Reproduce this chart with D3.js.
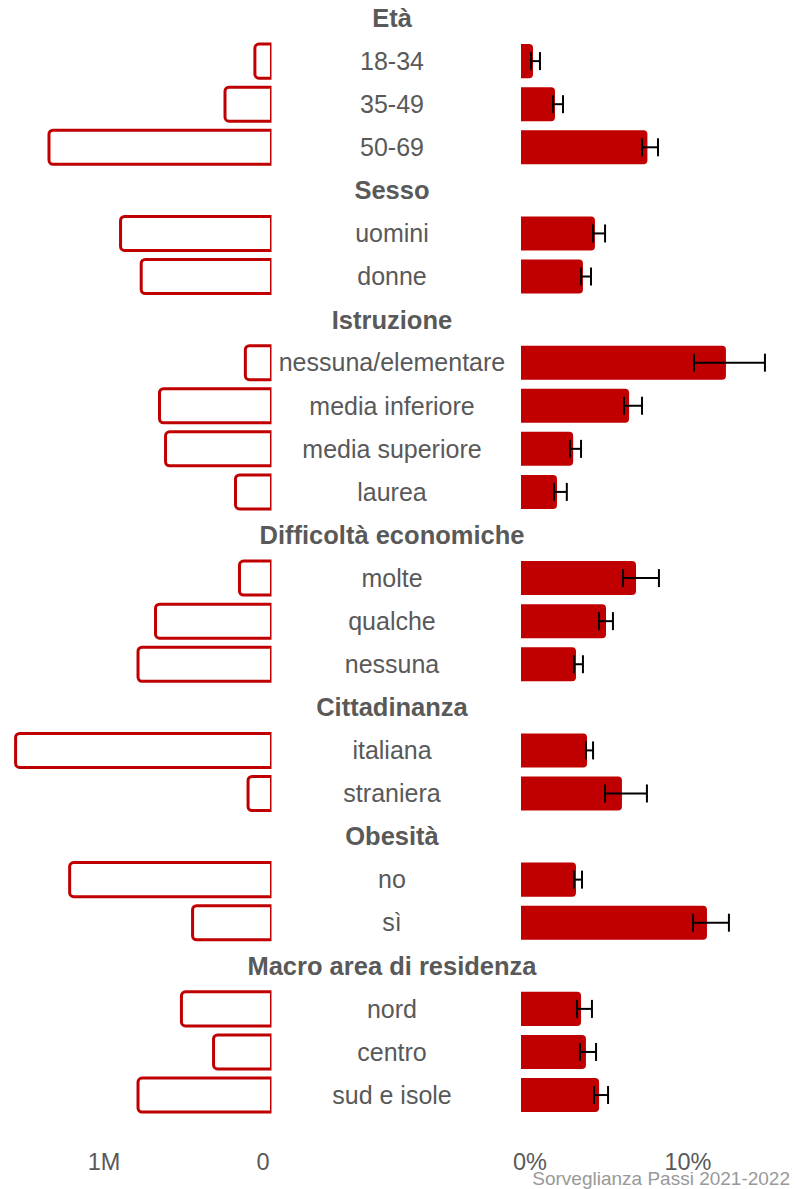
<!DOCTYPE html>
<html>
<head>
<meta charset="utf-8">
<script src="https://cdn.jsdelivr.net/npm/d3@7"></script>
<style>
  body { margin: 0; background: #fff; }
  svg text { font-family: "Liberation Sans", Arial, sans-serif; }
</style>
</head>
<body>
<div id="chart"></div>
<script>
// rows in display order: group headers have no values
var rowGroup = ["Età","Età","Età","Età","Sesso","Sesso","Sesso","Istruzione","Istruzione","Istruzione","Istruzione","Istruzione",
  "Difficoltà economiche","Difficoltà economiche","Difficoltà economiche","Difficoltà economiche",
  "Cittadinanza","Cittadinanza","Cittadinanza","Obesità","Obesità","Obesità",
  "Macro area di residenza","Macro area di residenza","Macro area di residenza","Macro area di residenza"];
var rowLabel = ["Età","18-34","35-49","50-69","Sesso","uomini","donne","Istruzione","nessuna/elementare","media inferiore","media superiore","laurea",
  "Difficoltà economiche","molte","qualche","nessuna","Cittadinanza","italiana","straniera","Obesità","no","sì",
  "Macro area di residenza","nord","centro","sud e isole"];
var isHeader = [1,0,0,0,1,0,0,1,0,0,0,0,1,0,0,0,1,0,0,1,0,0,1,0,0,0];
// population estimate (left), prevalence % and 95% CI (right)
var popValue = [null,0.095e6,0.283e6,1.39e6,null,0.94e6,0.81e6,null,0.155e6,0.695e6,0.657e6,0.217e6,
  null,0.192e6,0.72e6,0.83e6,null,1.60e6,0.138e6,null,1.26e6,0.487e6,null,0.557e6,0.355e6,0.83e6];
var pctValue = [null,0.76,2.15,8.0,null,4.68,3.92,null,12.97,6.84,3.3,2.28,
  null,7.28,5.38,3.48,null,4.18,6.39,null,3.48,11.77,null,3.8,4.11,4.94];
var pctLow = [null,0.63,2.03,7.66,null,4.56,3.8,null,10.95,6.52,3.1,2.09,
  null,6.46,4.94,3.35,null,4.11,5.32,null,3.35,10.89,null,3.54,3.73,4.62];
var pctHigh = [null,1.2,2.66,8.67,null,5.32,4.43,null,15.44,7.66,3.8,2.9,
  null,8.73,5.82,3.92,null,4.56,7.97,null,3.86,13.16,null,4.49,4.75,5.51];
var leftTicks = [0, 1e6];
var leftTickLabels = ["0", "1M"];
var rightTicks = [0, 10];
var rightTickLabels = ["0%", "10%"];

var rows = rowLabel.map(function(d, i) {
  return {id: i, label: d, group: rowGroup[i], header: isHeader[i] === 1,
    pop: popValue[i], pct: pctValue[i], lo: pctLow[i], hi: pctHigh[i]};
});

var width = 795, height = 1189;
var red = "#C00000";
var textGray = "#595959";

var svg = d3.select("#chart").append("svg")
  .attr("width", width)
  .attr("height", height);

var y = d3.scaleBand()
  .domain(rows.map(function(d) { return d.id }))
  .range([-3.5, -3.5 + 26 * 43.08])
  .paddingInner(0.21)
  .paddingOuter(0.105);

var xLeft = d3.scaleLinear().domain([0, 1.7e6]).range([270, 270 - 1.7 * 159]);
var xRight = d3.scaleLinear().domain([0, 16]).range([521, 521 + 16 * 15.8]);
var r = 4;

svg.append("clipPath").attr("id", "leftclip")
  .append("rect").attr("x", 0).attr("y", 0).attr("width", 271.5).attr("height", height);

var items = rows.filter(function(d) { return !d.header });

// left bars: outlined, rounded on the outer (left) end
svg.append("g").attr("clip-path", "url(#leftclip)")
  .selectAll("path")
  .data(items)
  .enter().append("path")
  .attr("fill", "#fff")
  .attr("stroke", red)
  .attr("stroke-width", 3)
  .attr("d", function(d) {
    var x0 = xLeft(d.pop), x1 = xLeft(0) + 1.5;
    var y0 = y(d.id), y1 = y(d.id) + y.bandwidth();
    var p = d3.path();
    p.moveTo(x1, y0);
    p.lineTo(x0 + r, y0);
    p.arcTo(x0, y0, x0, y0 + r, r);
    p.lineTo(x0, y1 - r);
    p.arcTo(x0, y1, x0 + r, y1, r);
    p.lineTo(x1, y1);
    p.closePath();
    return p.toString();
  });

// right bars: filled, rounded on the outer (right) end
svg.append("g")
  .selectAll("path")
  .data(items)
  .enter().append("path")
  .attr("fill", red)
  .attr("d", function(d) {
    var x0 = xRight(0), x1 = xRight(d.pct);
    var y0 = y(d.id), y1 = y(d.id) + y.bandwidth();
    var p = d3.path();
    p.moveTo(x0, y0);
    p.lineTo(x1 - r, y0);
    p.arcTo(x1, y0, x1, y0 + r, r);
    p.lineTo(x1, y1 - r);
    p.arcTo(x1, y1, x1 - r, y1, r);
    p.lineTo(x0, y1);
    p.closePath();
    return p.toString();
  });

// error bars
var err = svg.append("g").attr("stroke", "#000").attr("stroke-width", 2);
items.forEach(function(d) {
  var cy = y(d.id) + y.bandwidth() / 2;
  err.append("line").attr("x1", xRight(d.lo)).attr("x2", xRight(d.hi)).attr("y1", cy).attr("y2", cy);
  err.append("line").attr("x1", xRight(d.lo)).attr("x2", xRight(d.lo)).attr("y1", cy - 9).attr("y2", cy + 9);
  err.append("line").attr("x1", xRight(d.hi)).attr("x2", xRight(d.hi)).attr("y1", cy - 9).attr("y2", cy + 9);
});

// central labels
svg.append("g")
  .selectAll("text")
  .data(rows)
  .enter().append("text")
  .attr("x", 392)
  .attr("y", function(d) { return y(d.id) + y.bandwidth() / 2 })
  .attr("dy", "0.35em")
  .attr("text-anchor", "middle")
  .attr("fill", textGray)
  .style("font-size", function(d) { return d.header ? "25.5px" : "25px" })
  .style("font-weight", function(d) { return d.header ? "bold" : "normal" })
  .text(function(d) { return d.label });

// axis tick labels
var tickY = 1170;
svg.append("g").selectAll("text")
  .data(leftTicks)
  .enter().append("text")
  .attr("x", function(d) { return xLeft(d) - 7 })
  .attr("y", tickY)
  .attr("text-anchor", "middle")
  .attr("fill", textGray)
  .style("font-size", "23.5px")
  .text(function(d, i) { return leftTickLabels[i] });

svg.append("g").selectAll("text")
  .data(rightTicks)
  .enter().append("text")
  .attr("x", function(d) { return xRight(d) + 9 })
  .attr("y", tickY)
  .attr("text-anchor", "middle")
  .attr("fill", textGray)
  .style("font-size", "23.5px")
  .text(function(d, i) { return rightTickLabels[i] });

svg.append("text")
  .attr("x", 790)
  .attr("y", 1185)
  .attr("text-anchor", "end")
  .attr("fill", "#999")
  .style("font-size", "19px")
  .text("Sorveglianza Passi 2021-2022");
</script>
</body>
</html>
